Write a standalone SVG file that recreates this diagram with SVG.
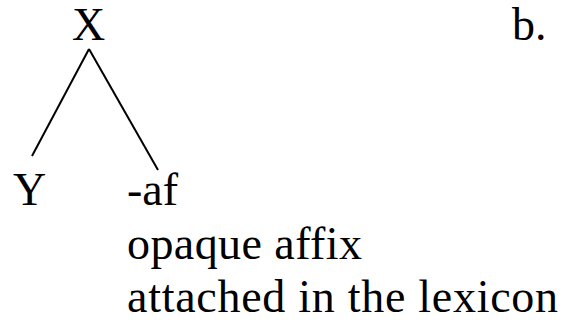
<svg xmlns="http://www.w3.org/2000/svg" width="565" height="322" viewBox="0 0 565 322">
<style>
text{font-family:"Liberation Serif","Times New Roman",serif;font-size:46px;fill:#000}
.edge{stroke:#000;stroke-width:2;fill:none}
</style>
<rect width="565" height="322" fill="#fff"/>
<g id="connectors">
<line class="edge" x1="89" y1="49" x2="32" y2="156"/>
<line class="edge" x1="89" y1="49" x2="158" y2="170"/>
</g>
<g id="node-X"><text x="72" y="40">X</text></g>
<g id="label-b"><text x="512" y="40">b.</text></g>
<g id="node-Y"><text x="13" y="205">Y</text></g>
<g id="node-af"><text x="127" y="205">-af</text>
<text x="127" y="259" textLength="235" lengthAdjust="spacing">opaque affix</text>
<text x="127" y="312" textLength="431" lengthAdjust="spacing">attached in the lexicon</text></g>
</svg>
